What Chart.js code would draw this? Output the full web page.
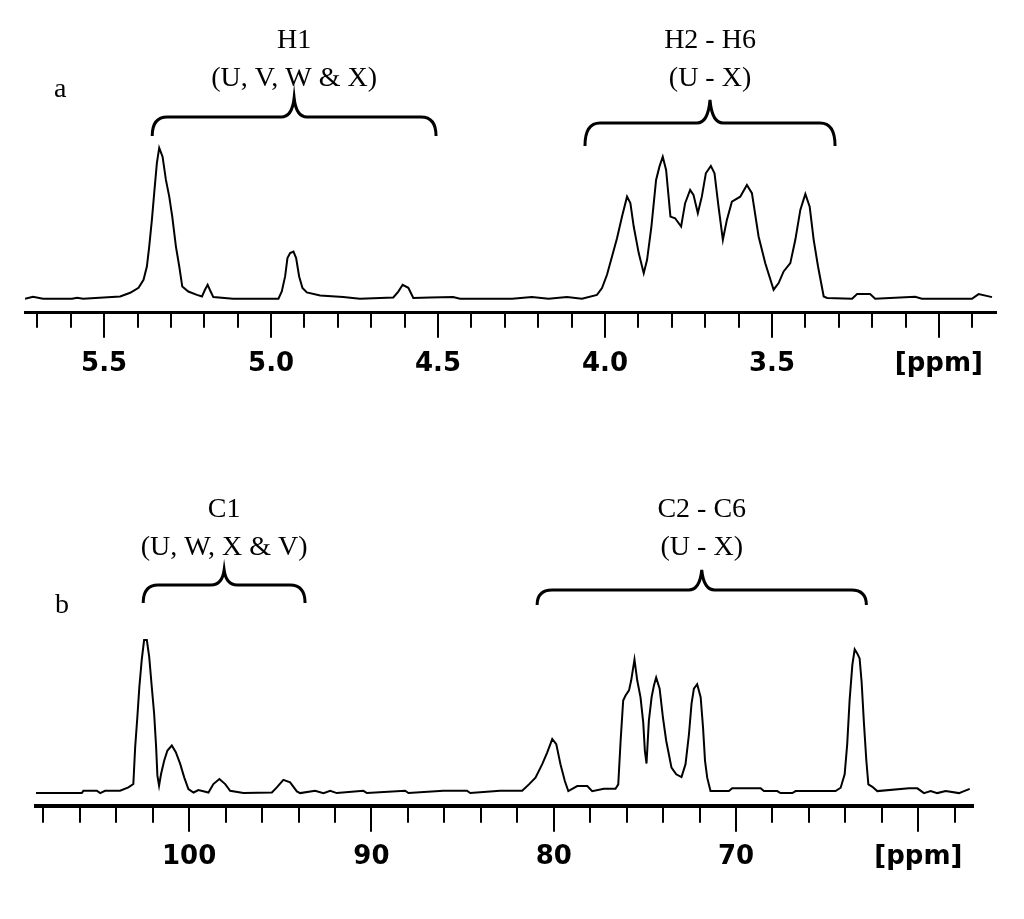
<!DOCTYPE html>
<html>
<head>
<meta charset="utf-8">
<title>NMR spectra</title>
<script src="https://cdn.jsdelivr.net/npm/chart.js@4.4.1/dist/chart.umd.min.js"></script>
<style>
  body { margin: 0; background: #fff; }
  canvas { position: absolute; left: 0; }
  #specA { top: 0; }
  #specB { top: 460px; }
</style>
</head>
<body>
<canvas id="specA" width="1024" height="460"></canvas>
<canvas id="specB" width="1024" height="459"></canvas>
<script>
// (a) 1H spectrum (ppm, relative intensity)
const protonPpm = [5.737, 5.713, 5.683, 5.596, 5.581, 5.563, 5.452, 5.422, 5.397, 5.382, 5.372, 5.365, 5.357, 5.350, 5.342, 5.335, 5.325, 5.315, 5.305, 5.296, 5.285, 5.275, 5.266, 5.248, 5.222, 5.207, 5.198, 5.190, 5.181, 5.173, 5.114, 4.978, 4.968, 4.958, 4.951, 4.943, 4.933, 4.925, 4.916, 4.906, 4.893, 4.853, 4.784, 4.734, 4.634, 4.619, 4.606, 4.589, 4.574, 4.524, 4.455, 4.434, 4.344, 4.278, 4.219, 4.169, 4.114, 4.069, 4.024, 4.009, 3.994, 3.979, 3.964, 3.949, 3.934, 3.924, 3.914, 3.899, 3.884, 3.874, 3.861, 3.847, 3.837, 3.827, 3.817, 3.804, 3.790, 3.772, 3.760, 3.745, 3.735, 3.722, 3.710, 3.698, 3.683, 3.672, 3.660, 3.647, 3.635, 3.620, 3.595, 3.575, 3.560, 3.540, 3.520, 3.495, 3.480, 3.465, 3.445, 3.430, 3.415, 3.400, 3.387, 3.375, 3.362, 3.345, 3.335, 3.260, 3.245, 3.206, 3.191, 3.071, 3.051, 2.901, 2.881, 2.841];
const protonInt = [0, 1.3, 0, 0, 0.7, 0, 1.5, 4.0, 7.3, 12.6, 21.4, 34.6, 52.3, 70.2, 90.1, 100, 94.2, 78.8, 67.7, 54.5, 34.6, 21.4, 8.1, 4.8, 2.6, 1.5, 6.0, 9.3, 4.8, 1.1, 0, 0, 4.8, 14.8, 27.0, 30.3, 31.3, 27.0, 14.8, 7.1, 4.2, 2.2, 1.1, 0, 0.9, 4.8, 9.3, 7.3, 0.5, 0.9, 1.1, 0, 0, 0, 1.1, 0, 1.1, 0, 2.6, 7.1, 15.9, 28.0, 40.2, 54.5, 67.7, 63.4, 47.9, 30.3, 17.0, 25.8, 47.9, 78.8, 87.6, 94.2, 85.4, 54.5, 53.4, 47.9, 63.4, 72.2, 68.9, 56.8, 67.7, 83.2, 88.1, 83.2, 61.1, 39.1, 52.3, 64.4, 67.7, 75.5, 70.0, 41.3, 23.6, 6.0, 10.4, 18.1, 23.6, 39.1, 58.9, 69.5, 61.1, 39.1, 21.4, 1.5, 0.5, 0, 3.1, 3.1, 0, 1.3, 0, 0, 3.1, 1.1];

// (b) 13C spectrum
const carbonPpm = [108.40, 105.89, 105.80, 105.06, 104.88, 104.61, 103.79, 103.33, 103.06, 102.96, 102.84, 102.73, 102.60, 102.47, 102.32, 102.19, 102.05, 101.92, 101.81, 101.74, 101.65, 101.54, 101.37, 101.19, 100.95, 100.73, 100.49, 100.27, 100.04, 99.76, 99.49, 98.94, 98.67, 98.34, 98.02, 97.75, 97.02, 95.46, 95.19, 94.83, 94.46, 94.09, 93.91, 93.09, 92.63, 92.26, 91.90, 90.44, 90.25, 88.15, 87.97, 86.05, 84.76, 84.58, 82.94, 81.73, 81.36, 81.00, 80.63, 80.36, 80.08, 79.86, 79.63, 79.39, 79.20, 78.71, 78.16, 77.89, 77.25, 76.61, 76.46, 76.33, 76.19, 76.06, 75.87, 75.75, 75.57, 75.42, 75.24, 75.09, 75.00, 74.91, 74.78, 74.63, 74.50, 74.38, 74.19, 74.01, 73.83, 73.54, 73.28, 72.99, 72.77, 72.58, 72.44, 72.31, 72.13, 71.94, 71.81, 71.70, 71.58, 71.40, 70.39, 70.21, 68.65, 68.47, 67.74, 67.56, 66.91, 66.73, 64.54, 64.26, 64.04, 63.90, 63.77, 63.62, 63.49, 63.35, 63.22, 63.11, 62.98, 62.85, 62.74, 62.52, 62.25, 60.51, 60.05, 59.69, 59.32, 58.96, 58.50, 57.77, 57.49, 57.18];
const carbonInt = [0, 0, 1.5, 1.5, 0, 1.5, 1.5, 3.7, 5.9, 30.0, 49.7, 69.5, 87.0, 100, 100, 89.0, 69.5, 52.0, 30.0, 11.4, 4.8, 12.5, 21.2, 27.8, 31.1, 26.7, 19.1, 10.3, 2.6, 0.4, 2.0, 0.4, 5.9, 9.2, 5.9, 1.5, 0, 0.4, 3.7, 8.6, 7.0, 1.1, 0, 1.5, 0, 1.5, 0, 1.5, 0, 1.5, 0, 1.5, 1.5, 0, 1.5, 1.5, 5.7, 10.1, 18.9, 26.5, 35.3, 32.0, 18.9, 7.9, 1.3, 4.6, 4.6, 1.3, 2.8, 2.8, 5.7, 34.2, 60.5, 63.8, 67.1, 73.7, 87.3, 73.7, 62.7, 46.2, 27.6, 19.3, 47.4, 62.7, 70.4, 75.5, 68.2, 49.5, 34.2, 16.6, 12.3, 10.5, 18.9, 38.6, 58.4, 68.2, 71.1, 62.7, 43.0, 21.1, 10.1, 1.3, 1.3, 3.1, 3.1, 1.3, 1.3, 0, 0, 1.3, 1.3, 3.5, 12.3, 32.0, 60.5, 83.6, 93.9, 91.3, 88.0, 72.6, 45.2, 21.1, 5.7, 4.1, 1.3, 3.1, 3.1, 0, 1.3, 0, 1.3, 0, 1.3, 2.8];

// axis ticks
const protonMajor = [5.5, 5.0, 4.5, 4.0, 3.5, 3.0];
const carbonMajor = [100, 90, 80, 70, 60];
const protonMinor = range(5.7, 2.9, 0.1);
const carbonMinor = range(108, 58, 2);

// bracket groups: label, sub label, ppm span
const protonGroups = ["H1", "H2 - H6"];
const protonSubs = ["(U, V, W & X)", "(U - X)"];
const protonFrom = [5.356, 4.060];
const protonTo = [4.506, 3.311];
const carbonGroups = ["C1", "C2 - C6"];
const carbonSubs = ["(U, W, X & V)", "(U - X)"];
const carbonFrom = [102.52, 80.91];
const carbonTo = [93.64, 62.85];

function range(a, b, step) {
  const out = [];
  const n = Math.round(Math.abs(a - b) / step);
  for (let i = 0; i <= n; i++) out.push(+(a - i * step).toFixed(3));
  return out;
}

function drawBrace(ctx, x1, x2, barY, endY, tipY) {
  const xm = (x1 + x2) / 2;
  ctx.beginPath();
  ctx.moveTo(x1, endY);
  ctx.quadraticCurveTo(x1, barY, x1 + 15, barY);
  ctx.lineTo(xm - 13, barY);
  ctx.quadraticCurveTo(xm - 2, barY, xm, tipY);
  ctx.quadraticCurveTo(xm + 2, barY, xm + 13, barY);
  ctx.lineTo(x2 - 15, barY);
  ctx.quadraticCurveTo(x2, barY, x2, endY);
  ctx.stroke();
}

// ticks, brackets and labels on top of the chart
function decor(cfg) {
  return {
    id: "decor",
    afterDraw(chart) {
      const { ctx, chartArea } = chart;
      const xs = chart.scales.x;
      const axisY = chartArea.bottom;
      ctx.save();
      ctx.strokeStyle = "#000";
      ctx.fillStyle = "#000";
      ctx.lineWidth = 2;
      ctx.beginPath();
      cfg.minor.forEach((v) => {
        const px = Math.round(xs.getPixelForValue(v));
        ctx.moveTo(px, axisY);
        ctx.lineTo(px, axisY + cfg.minorLen);
      });
      cfg.major.forEach((v) => {
        const px = Math.round(xs.getPixelForValue(v));
        ctx.moveTo(px, axisY);
        ctx.lineTo(px, axisY + cfg.majorLen);
      });
      ctx.stroke();

      ctx.lineWidth = 3;
      ctx.font = '28px "Liberation Serif"';
      ctx.textAlign = "center";
      ctx.textBaseline = "middle";
      cfg.groups.forEach((g, i) => {
        const x1 = xs.getPixelForValue(cfg.from[i]);
        const x2 = xs.getPixelForValue(cfg.to[i]);
        const b = cfg.braces[i];
        drawBrace(ctx, x1, x2, b[0], b[1], b[2]);
        ctx.fillText(g, (x1 + x2) / 2, cfg.labelY);
        ctx.fillText(cfg.subs[i], (x1 + x2) / 2, cfg.subY);
      });

      ctx.font = '28px "Liberation Serif"';
      ctx.textAlign = "left";
      ctx.textBaseline = "alphabetic";
      ctx.fillText(cfg.panel, cfg.panelX, cfg.panelY);
      ctx.restore();
    },
  };
}

function makeSpectrum(id, ppm, vals, opts) {
  const data = ppm.map((p, i) => ({ x: p, y: vals[i] }));
  return new Chart(document.getElementById(id), {
    type: "line",
    data: {
      datasets: [
        {
          data: data,
          borderColor: "#000",
          borderWidth: 2,
          pointRadius: 0,
          tension: 0,
          fill: false,
        },
      ],
    },
    options: {
      responsive: false,
      devicePixelRatio: 1,
      animation: false,
      events: [],
      layout: { padding: opts.padding },
      plugins: { legend: { display: false }, tooltip: { enabled: false } },
      scales: {
        x: {
          type: "linear",
          reverse: true,
          min: opts.min,
          max: opts.max,
          bounds: "data",
          afterBuildTicks: (s) => {
            s.ticks = opts.major.map((v) => ({ value: v }));
          },
          grid: {
            drawOnChartArea: false,
            drawTicks: true,
            tickLength: 24,
            color: "rgba(0,0,0,0)",
            tickColor: "rgba(0,0,0,0)",
          },
          border: { display: true, color: "#000", width: opts.axisWidth },
          ticks: {
            autoSkip: false,
            maxRotation: 0,
            padding: opts.tickPad,
            color: "#000",
            font: { family: "DejaVu Sans", weight: "bold", size: 26 },
            callback: opts.label,
          },
        },
        y: { display: false, min: opts.yMin, max: opts.yMax },
      },
    },
    plugins: [decor(opts.decor)],
  });
}

makeSpectrum("specA", protonPpm, protonInt, {
  min: 2.829,
  max: 5.737,
  yMin: -9.3,
  yMax: 111.9,
  padding: { left: 25, right: 28, top: 130, bottom: 68 },
  axisWidth: 3,
  tickPad: 12,
  major: protonMajor,
  label: (v) => (Math.abs(v - 3) < 1e-9 ? "[ppm]" : v.toFixed(1)),
  decor: {
    minor: protonMinor,
    major: protonMajor,
    minorLen: 15,
    majorLen: 25,
    groups: protonGroups,
    subs: protonSubs,
    from: protonFrom,
    to: protonTo,
    braces: [[117, 136, 98], [123, 146, 100]],
    labelY: 41,
    subY: 79,
    panel: "a",
    panelX: 54,
    panelY: 97,
  },
});

makeSpectrum("specB", carbonPpm, carbonInt, {
  min: 57.0,
  max: 108.4,
  yMin: -8.3,
  yMax: 113.1,
  padding: { left: 36, right: 51, top: 160, bottom: 34 },
  axisWidth: 4,
  tickPad: 12,
  major: carbonMajor,
  label: (v) => (v === 60 ? "[ppm]" : String(v)),
  decor: {
    minor: carbonMinor,
    major: carbonMajor,
    minorLen: 17,
    majorLen: 26,
    groups: carbonGroups,
    subs: carbonSubs,
    from: carbonFrom,
    to: carbonTo,
    braces: [[125, 143, 110], [130, 145, 110]],
    labelY: 50,
    subY: 88,
    panel: "b",
    panelX: 55,
    panelY: 153,
  },
});
</script>
</body>
</html>
